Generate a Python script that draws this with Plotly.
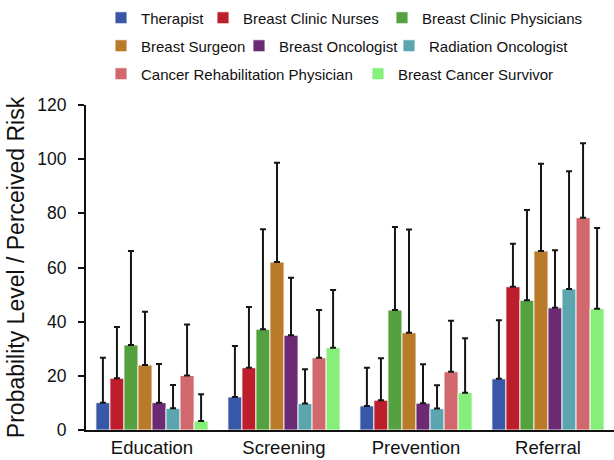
import plotly.graph_objects as go

categories = ["Education", "Screening", "Prevention", "Referral"]

groups = [
    "Therapist", "Breast Clinic Nurses", "Breast Clinic Physicians",
    "Breast Surgeon", "Breast Oncologist", "Radiation Oncologist",
    "Cancer Rehabilitation Physician", "Breast Cancer Survivor",
]

colors = ["#3857A6", "#BD1E2C", "#55A13F", "#B97A2A",
          "#6B2A73", "#5BA5AF", "#D0686E", "#86EF7A"]

# mean values per group, in category order
means = {
    "Therapist":                       [10.1, 12.2, 8.9, 18.9],
    "Breast Clinic Nurses":            [19.1, 23.0, 11.0, 52.9],
    "Breast Clinic Physicians":        [31.4, 37.2, 44.3, 47.9],
    "Breast Surgeon":                  [24.0, 62.0, 35.9, 66.1],
    "Breast Oncologist":               [10.1, 35.0, 9.9, 45.1],
    "Radiation Oncologist":            [8.0, 9.8, 7.9, 52.1],
    "Cancer Rehabilitation Physician": [20.1, 26.7, 21.5, 78.4],
    "Breast Cancer Survivor":          [3.3, 30.4, 13.8, 44.8],
}

# standard deviations (upper error only)
sds = {
    "Therapist":                       [16.6, 18.8, 14.1, 21.6],
    "Breast Clinic Nurses":            [18.9, 22.4, 15.5, 15.9],
    "Breast Clinic Physicians":        [34.7, 36.9, 30.7, 33.3],
    "Breast Surgeon":                  [19.7, 36.7, 38.1, 32.2],
    "Breast Oncologist":               [14.3, 21.2, 14.4, 21.3],
    "Radiation Oncologist":            [8.6, 12.6, 8.6, 43.4],
    "Cancer Rehabilitation Physician": [18.9, 17.6, 18.8, 27.5],
    "Breast Cancer Survivor":          [9.9, 21.3, 20.1, 29.8],
}

yticks = [0, 20, 40, 60, 80, 100, 120]

FONT = "Liberation Sans, Arial, sans-serif"

# plot area in pixels (left edge, width, bottom edge, height)
PX_L, PX_W, PX_B, PX_H = 86.0, 528.0, 430.0, 325.0

# key entries: (left px, row centre px) for each group
key_pos = [
    (101, 18), (203, 18), (382, 18),
    (101, 46), (239, 46), (389, 46),
    (101, 74), (358, 74),
]

fig = go.Figure()
legend_layout = {}
for i, (name, col) in enumerate(zip(groups, colors)):
    key = "legend" if i == 0 else f"legend{i + 1}"
    fig.add_trace(go.Bar(
        name=name,
        x=categories,
        y=means[name],
        marker=dict(color=col, line=dict(color="rgba(255,255,255,0.85)", width=1)),
        error_y=dict(type="data", symmetric=False, array=sds[name],
                     arrayminus=[0] * len(categories),
                     color="#161616", thickness=2, width=3),
        legend=key,
        showlegend=True,
    ))
    lx, ly = key_pos[i]
    legend_layout[key] = dict(
        x=(lx - PX_L) / PX_W, y=(PX_B - ly) / PX_H,
        xanchor="left", yanchor="middle", orientation="h",
        font=dict(family=FONT, size=15, color="#111111"),
        bgcolor="rgba(0,0,0,0)", itemclick=False,
    )

fig.update_layout(
    width=614, height=460,
    showlegend=True,
    margin=dict(l=86, r=0, t=105, b=30),
    paper_bgcolor="white", plot_bgcolor="white",
    barmode="group", bargap=0.15, bargroupgap=0.0,
    font=dict(family=FONT, color="#111111"),
    xaxis=dict(
        type="category", range=[-0.5, 3.5],
        showline=True, linecolor="#111111", linewidth=2,
        ticks="", showgrid=False,
        tickfont=dict(family=FONT, size=18.5, color="#111111"),
    ),
    yaxis=dict(
        range=[0, 120], tickvals=yticks,
        showline=True, linecolor="#111111", linewidth=2,
        ticks="outside", ticklen=6, tickwidth=2, tickcolor="#111111",
        ticklabelstandoff=8,
        showgrid=False, zeroline=False,
        tickfont=dict(family=FONT, size=17.5, color="#111111"),
        title=dict(text="Probability Level / Perceived Risk",
                   font=dict(family=FONT, size=23, color="#111111"),
                   standoff=6),
    ),
    **legend_layout,
)

fig.write_html("out.html")
